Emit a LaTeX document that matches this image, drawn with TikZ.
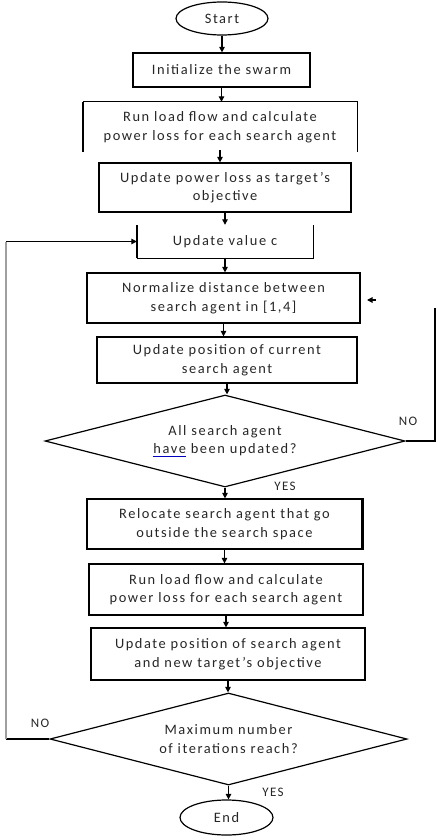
\documentclass[tikz,border=0pt]{standalone}
\usepackage{fontspec}
\setmainfont[LetterSpace=11]{Carlito}
\usetikzlibrary{shapes.geometric,arrows.meta}
\definecolor{txt}{HTML}{262626}
\newcommand\bluul[1]{\setbox0\hbox{#1}\rlap{\color{blue!75!black}\rule[-2.6pt]{\wd0}{0.8pt}}#1}
\begin{document}
\begin{tikzpicture}[x=1pt,y=-1pt,
  every node/.style={font=\fontsize{14.4}{18.5}\selectfont, text=txt, align=center, inner sep=0pt},
  proc/.style={rectangle, draw, line width=1.2pt},
  procnb/.style={rectangle},
  term/.style={ellipse, draw, line width=1.2pt},
  decision/.style={diamond, draw, line width=1.2pt, aspect=3.9},
  lbl/.style={font=\fontsize{13}{15}\selectfont},
  arrow/.style={-{Triangle[length=5.5pt,width=5.5pt]}, line width=1.2pt},
  line/.style={line width=1.2pt},
  heavy/.style={line width=2pt}]
\useasboundingbox (0,0) rectangle (436,837);

\node[term, minimum width=92pt, minimum height=33pt] (start) at (222,18.5) {Start};
\node[proc, minimum width=177pt, minimum height=34pt] (init) at (221.5,70) {Initialize the swarm};
\node[procnb, minimum width=274pt, minimum height=50pt] (run1) at (220,127) {Run load flow and calculate\\power loss for each search agent};
\node[proc, minimum width=252pt, minimum height=49pt] (upl) at (225,187.5) {Update power loss as target's\\objective};
\node[procnb, minimum width=176pt, minimum height=33pt] (upc) at (225,241.5) {Update value c};
\node[proc, minimum width=273pt, minimum height=50pt] (norm) at (223.5,298) {Normalize distance between\\search agent in [1,4]};
\node[proc, minimum width=260pt, minimum height=46pt] (upcur) at (227,360) {Update position of current\\search agent};
\node[decision, minimum width=360pt, minimum height=92pt] (dia1) at (225,441) {All search agent\\\bluul{have} been updated?};
\node[proc, minimum width=275pt, minimum height=50pt] (relo) at (224.5,524) {Relocate search agent that go\\outside the search space};
\node[proc, minimum width=274pt, minimum height=51pt] (run2) at (226,589.5) {Run load flow and calculate\\power loss for each search agent};
\node[proc, minimum width=274pt, minimum height=52pt] (upnew) at (228,654) {Update position of search agent\\and new target's objective};
\node[decision, minimum width=357pt, minimum height=92pt] (dia2) at (228.5,739) {Maximum number\\of iterations reach?};
\node[term, minimum width=93pt, minimum height=35pt] (endn) at (226.5,817.5) {End};

% partial borders
\draw[line] (run1.south east) -- (run1.north east) -- (run1.north west);
\draw[heavy] (run1.north west) -- (run1.south west);
\draw[line] (upc.south west) -- (upc.south east) -- (upc.north east);
\draw[heavy] (upc.north west) -- (upc.south west);
\draw[line, line width=1.8pt] (relo.north east) -- (relo.south east);

% main flow
\draw[arrow] (start.south) -- (start.south |- init.north);
\draw[arrow] (init.south) -- (init.south |- run1.north);
\draw[arrow] ([yshift=2pt]run1.south) -- (run1.south |- upl.north);
\draw[arrow] (upl.south) -- (upl.south |- upc.north);
\draw[arrow] (upc.south) -- (upc.south |- norm.north);
\draw[arrow] (norm.south) -- (norm.south |- upcur.north);
\draw[arrow] (upcur.south) -- (upcur.south |- dia1.north);
\draw[arrow] (dia1.south) -- (dia1.south |- relo.north);
\draw[arrow] (relo.south) -- (relo.south |- run2.north);
\draw[arrow] (run2.south) -- (run2.south |- upnew.north);
\draw[arrow] (upnew.south) -- (upnew.south |- dia2.north);
\draw[arrow] (dia2.south) -- (dia2.south |- endn.north);

% NO loop (inner)
\coordinate (rb) at (435,441);
\coordinate (rt) at (435,308);
\draw[line] (dia1.east) -- (rb) -- (rt);
\coordinate (tipS) at (376,300);
\coordinate (tipE) at (367,300);
\draw[arrow] (tipS) -- (tipE);

% NO loop (outer)
\coordinate (lb) at (6,739);
\coordinate (lt) at (6,241.5);
\draw[line] (dia2.west) -- (lb);
\draw[gray!75, line width=2.4pt] (lb) -- (lt);
\draw[arrow] (lt) -- (upc.west);

% labels
\node[lbl] (no1) at (408,421) {NO};
\node[lbl] (yes1) at (285,486) {YES};
\node[lbl] (no2) at (40,723) {NO};
\node[lbl] (yes2) at (273,792) {YES};
\end{tikzpicture}
\end{document}
